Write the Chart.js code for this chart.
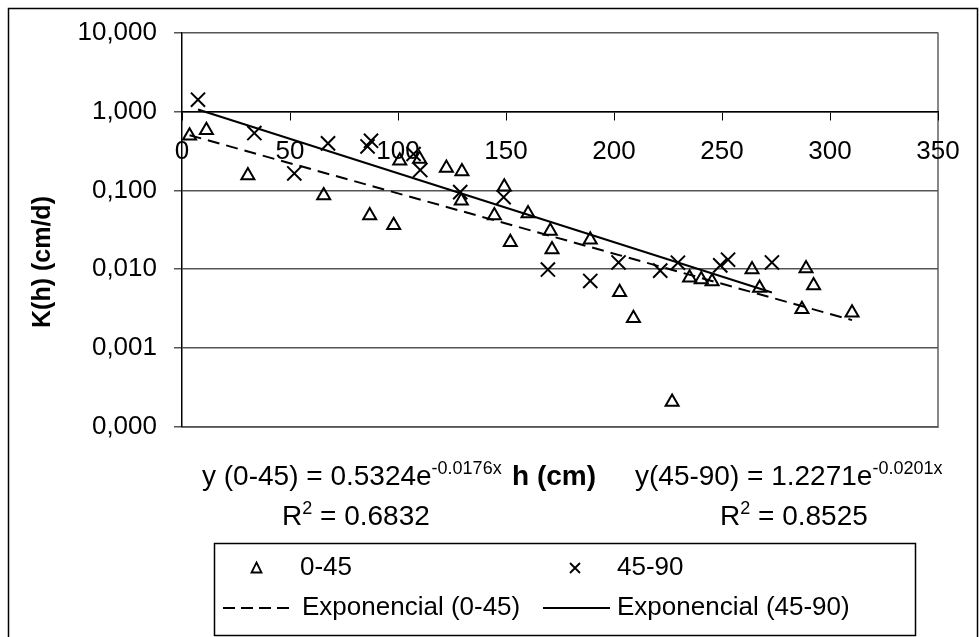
<!DOCTYPE html>
<html>
<head>
<meta charset="utf-8">
<script src="https://cdn.jsdelivr.net/npm/chart.js@4.4.1/dist/chart.umd.min.js"></script>
<style>
  html, body { margin: 0; padding: 0; background: #fff; }
</style>
</head>
<body>
<canvas id="chart" width="979" height="637"></canvas>
<script>
// tick values
const xTicks = [0, 50, 100, 150, 200, 250, 300, 350];
const yTicks = [0.0001, 0.001, 0.01, 0.1, 1, 10];

// 0-45 series (h in cm, K in cm/d)
const h045 = [3.5, 11.3, 30.5, 65.6, 86.9, 98, 100.8, 110, 122.4, 129.6, 129.3, 149.2, 144.6, 152, 160.2,
  170.5, 171.3, 189, 202.6, 209, 226.9, 235, 240.4, 245.4, 263.9, 267.4, 287, 288.9, 292.4, 310.2];
const k045 = [0.493, 0.58, 0.154, 0.086, 0.048, 0.036, 0.238, 0.25, 0.192, 0.174, 0.074, 0.111, 0.048, 0.022, 0.051,
  0.0305, 0.0178, 0.0237, 0.0051, 0.0024, 0.000208, 0.0078, 0.0074, 0.0070, 0.0099, 0.0058, 0.0031, 0.0102, 0.0062, 0.0028];

// 45-90 series
const h4590 = [7.4, 33.5, 52, 67.6, 85.9, 87.5, 107.2, 110.3, 128.8, 148.9, 169.4, 189, 202.1, 221.4, 229.6, 249.2, 252.8, 273.1];
const k4590 = [1.41, 0.533, 0.164, 0.394, 0.36, 0.425, 0.289, 0.181, 0.095, 0.082, 0.0099, 0.0071, 0.0122, 0.0096, 0.0121, 0.0112, 0.0132, 0.0122];

// exponential trendlines printed on the chart: y = a * e^(b x)
const fitA = [0.5324, 1.2271];
const fitB = [-0.0176, -0.0201];

const FONT = '"Liberation Sans", Arial, sans-serif';

const toPoints = (xs, ys) => xs.map((x, i) => ({ x: x, y: ys[i] }));
const trend = (xs, a, b) => {
  const lo = Math.min(...xs);
  const hi = Math.max(...xs);
  return [lo, hi].map(x => ({ x: x, y: a * Math.exp(b * x) }));
};

// white background + plot frame
const background = {
  id: 'background',
  beforeDraw: (chart) => {
    const { ctx, chartArea } = chart;
    ctx.save();
    ctx.fillStyle = '#fff';
    ctx.fillRect(0, 0, chart.width, chart.height);
    ctx.strokeStyle = '#000';
    ctx.lineWidth = 1.5;
    ctx.strokeRect(8.5, 8.5, 969, 700);
    ctx.strokeStyle = '#888';
    ctx.lineWidth = 2;
    ctx.beginPath();
    ctx.moveTo(chartArea.right, chartArea.top);
    ctx.lineTo(chartArea.right, chartArea.bottom);
    ctx.lineTo(chartArea.left, chartArea.bottom);
    ctx.stroke();
    ctx.restore();
  },
};

// superscript helper: draws pieces in sequence
const drawRich = (ctx, x, y, parts) => {
  let cx = x;
  parts.forEach(p => {
    ctx.font = p.sup ? `18px ${FONT}` : `28px ${FONT}`;
    ctx.fillText(p.t, cx, p.sup ? y - 11 : y);
    cx += ctx.measureText(p.t).width;
  });
};

// titles, equations and legend
const annotations = {
  id: 'annotations',
  afterDraw: (chart) => {
    const { ctx } = chart;
    ctx.save();
    ctx.fillStyle = '#000';
    ctx.textBaseline = 'alphabetic';
    ctx.textAlign = 'left';

    // y axis title
    ctx.save();
    ctx.translate(50, 262);
    ctx.rotate(-Math.PI / 2);
    ctx.textAlign = 'center';
    ctx.font = `bold 25px ${FONT}`;
    ctx.fillText('K(h) (cm/d)', 0, 0);
    ctx.restore();

    // x axis title
    ctx.font = `bold 28px ${FONT}`;
    ctx.fillText('h (cm)', 512, 485);

    drawRich(ctx, 202, 485, [{ t: 'y (0-45) = 0.5324e' }, { t: '-0.0176x', sup: true }]);
    drawRich(ctx, 282, 525, [{ t: 'R' }, { t: '2', sup: true }, { t: ' = 0.6832' }]);
    drawRich(ctx, 635, 485, [{ t: 'y(45-90) = 1.2271e' }, { t: '-0.0201x', sup: true }]);
    drawRich(ctx, 720, 525, [{ t: 'R' }, { t: '2', sup: true }, { t: ' = 0.8525' }]);

    // legend box
    ctx.strokeStyle = '#000';
    ctx.lineWidth = 1.5;
    ctx.strokeRect(214.5, 543.5, 701, 92);

    ctx.font = `26px ${FONT}`;
    ctx.textBaseline = 'middle';
    const row1 = 568, row2 = 608;
    const ds = chart.data.datasets;

    // triangle marker
    ctx.lineWidth = 1.8;
    ctx.beginPath();
    ctx.moveTo(256.5, row1 - 5.5);
    ctx.lineTo(261.5, row1 + 4.5);
    ctx.lineTo(251.5, row1 + 4.5);
    ctx.closePath();
    ctx.stroke();
    ctx.fillText(ds[0].label, 300, row1);

    // cross marker
    ctx.beginPath();
    ctx.moveTo(570, row1 - 5);
    ctx.lineTo(580, row1 + 5);
    ctx.moveTo(580, row1 - 5);
    ctx.lineTo(570, row1 + 5);
    ctx.stroke();
    ctx.fillText(ds[1].label, 617, row1);

    // dashed line
    ctx.lineWidth = 2;
    ctx.setLineDash([12, 6]);
    ctx.beginPath();
    ctx.moveTo(223, row2);
    ctx.lineTo(292, row2);
    ctx.stroke();
    ctx.setLineDash([]);
    ctx.fillText(ds[2].label, 302, row2);

    ctx.beginPath();
    ctx.moveTo(543, row2);
    ctx.lineTo(610, row2);
    ctx.stroke();
    ctx.fillText(ds[3].label, 617, row2);

    ctx.restore();
  },
};

new Chart(document.getElementById('chart'), {
  type: 'scatter',
  data: {
    datasets: [
      {
        label: '0-45',
        data: toPoints(h045, k045),
        pointStyle: 'triangle',
        pointRadius: 7.5,
        borderColor: '#000',
        backgroundColor: 'rgba(0,0,0,0)',
        pointBorderWidth: 2,
      },
      {
        label: '45-90',
        data: toPoints(h4590, k4590),
        pointStyle: 'crossRot',
        pointRadius: 10,
        borderColor: '#000',
        backgroundColor: 'rgba(0,0,0,0)',
        pointBorderWidth: 2,
      },
      {
        type: 'line',
        label: 'Exponencial (0-45)',
        data: trend(h045, fitA[0], fitB[0]),
        borderColor: '#000',
        borderWidth: 2,
        borderDash: [12, 7],
        pointRadius: 0,
        fill: false,
        showLine: true,
      },
      {
        type: 'line',
        label: 'Exponencial (45-90)',
        data: trend(h4590, fitA[1], fitB[1]),
        borderColor: '#000',
        borderWidth: 2,
        pointRadius: 0,
        fill: false,
        showLine: true,
      },
    ],
  },
  options: {
    responsive: false,
    animation: false,
    layout: { padding: { top: 32, right: 41, bottom: 210, left: 0 } },
    plugins: {
      legend: { display: false },
      tooltip: { enabled: false },
    },
    scales: {
      x: {
        type: 'linear',
        min: 0,
        max: 350,
        position: { y: 1 },
        afterBuildTicks: (scale) => { scale.ticks = xTicks.map(v => ({ value: v })); },
        grid: { drawOnChartArea: false, drawTicks: true, tickLength: 8, color: '#000', lineWidth: 1 },
        border: { display: true, color: '#000', width: 1.5 },
        ticks: { color: '#000', font: { family: FONT, size: 26 }, padding: 17, maxRotation: 0, autoSkip: false },
      },
      y: {
        type: 'logarithmic',
        min: 0.0001,
        max: 10,
        position: 'left',
        afterBuildTicks: (scale) => { scale.ticks = yTicks.map(v => ({ value: v, major: true })); },
        afterFit: (scale) => { scale.width = 182; },
        grid: { color: '#555', lineWidth: 1.5, tickLength: 8, drawTicks: true },
        border: { display: true, color: '#000', width: 1.5 },
        ticks: {
          color: '#000',
          font: { family: FONT, size: 26 },
          padding: 17,
          autoSkip: false,
          callback: (v) => Number(v).toFixed(3).replace('.', ','),
        },
      },
    },
  },
  plugins: [background, annotations],
});
</script>
</body>
</html>
